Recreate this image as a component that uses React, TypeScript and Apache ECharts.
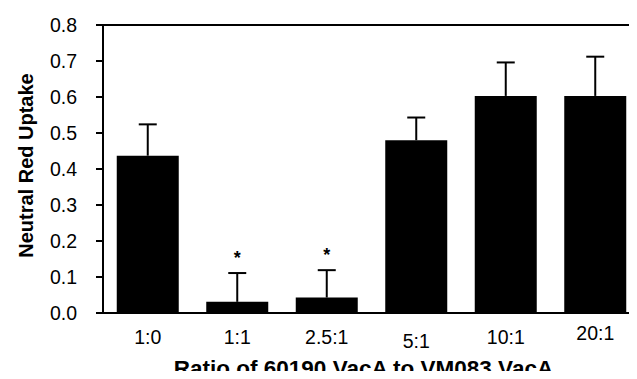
import React, { useEffect, useRef } from "react";
import * as echarts from "echarts";

const categories = ["1:0", "1:1", "2.5:1", "5:1", "10:1", "20:1"];
const meanUptake = [0.437, 0.031, 0.043, 0.48, 0.603, 0.603];
const upperError = [0.524, 0.111, 0.119, 0.543, 0.696, 0.712];
const significance = ["", "*", "*", "", "", ""];
const yTicks = ["0.0", "0.1", "0.2", "0.3", "0.4", "0.5", "0.6", "0.7", "0.8"];
const xTitle = "Ratio of 60190 VacA to VM083 VacA";
const yTitle = "Neutral Red Uptake";

const FONT = "'Liberation Sans', Arial, Helvetica, sans-serif";

export default function App() {
  const ref = useRef<HTMLDivElement>(null);
  useEffect(() => {
    if (!ref.current) return;
    const chart = echarts.init(ref.current, undefined, { renderer: "svg" });
    const labelPad: Record<string, number[]> = { "5:1": [8, 0, 0, 0], "20:1": [0, 0, 0, 0] };
    chart.setOption({
      animation: false,
      backgroundColor: "#ffffff",
      grid: {
        left: 103,
        right: -3,
        top: 25,
        bottom: 66,
        show: true,
        borderColor: "#000",
        borderWidth: 2,
        containLabel: false,
        outerBoundsMode: "none",
      },
      graphic: [
        {
          type: "text",
          x: 363.5,
          y: 368,
          style: {
            text: xTitle,
            align: "center",
            verticalAlign: "middle",
            fontSize: 22.5,
            fontWeight: "bold",
            fontFamily: FONT,
            fill: "#000",
          },
        },
      ],
      xAxis: {
        type: "category",
        data: categories.map((c) => ({
          value: c,
          textStyle: { padding: labelPad[c] ?? [4, 0, 0, 0] },
        })),
        axisLine: { show: true, lineStyle: { color: "#000", width: 2 } },
        axisTick: { show: false },
        axisLabel: { color: "#000", fontSize: 19.5, fontFamily: FONT, margin: 10 },
      },
      yAxis: {
        type: "value",
        min: 0,
        max: 0.8,
        interval: 0.1,
        splitLine: { show: false },
        axisLine: { show: true, lineStyle: { color: "#000", width: 2 } },
        axisTick: { show: true, length: 7, lineStyle: { color: "#000", width: 2 } },
        axisLabel: {
          color: "#000",
          fontSize: 19.5,
          fontFamily: FONT,
          margin: 26,
          formatter: (v: number) => yTicks[Math.round(v * 10)] ?? v.toFixed(1),
        },
        name: yTitle,
        nameLocation: "middle",
        nameGap: 67.5,
        nameTextStyle: {
          color: "#000",
          fontSize: 20,
          fontWeight: "bold",
          fontFamily: FONT,
          padding: [0, 0, 0, 7],
        },
      },
      series: [
        {
          type: "bar",
          data: meanUptake,
          barWidth: 62,
          itemStyle: { color: "#000" },
          z: 2,
        },
        {
          type: "custom",
          z: 3,
          data: categories.map((_, i) => [i, meanUptake[i], upperError[i]]),
          renderItem: (params: any, api: any) => {
            const i = api.value(0);
            const p0 = api.coord([i, api.value(1)]);
            const p1 = api.coord([i, api.value(2)]);
            const style = { stroke: "#000", lineWidth: 2 };
            const children: any[] = [
              { type: "line", shape: { x1: p0[0], y1: p0[1], x2: p1[0], y2: p1[1] }, style },
              { type: "line", shape: { x1: p1[0] - 9, y1: p1[1], x2: p1[0] + 9, y2: p1[1] }, style },
            ];
            const s = significance[i];
            if (s) {
              children.push({
                type: "text",
                style: {
                  text: s,
                  x: p1[0],
                  y: p1[1] - 6,
                  align: "center",
                  verticalAlign: "bottom",
                  fontSize: 18,
                  fontWeight: "bold",
                  fontFamily: FONT,
                  fill: "#000",
                },
              });
            }
            return { type: "group", children };
          },
        },
      ],
    });
    return () => chart.dispose();
  }, []);
  return <div ref={ref} style={{ width: 637, height: 379, margin: -8 }} />;
}
